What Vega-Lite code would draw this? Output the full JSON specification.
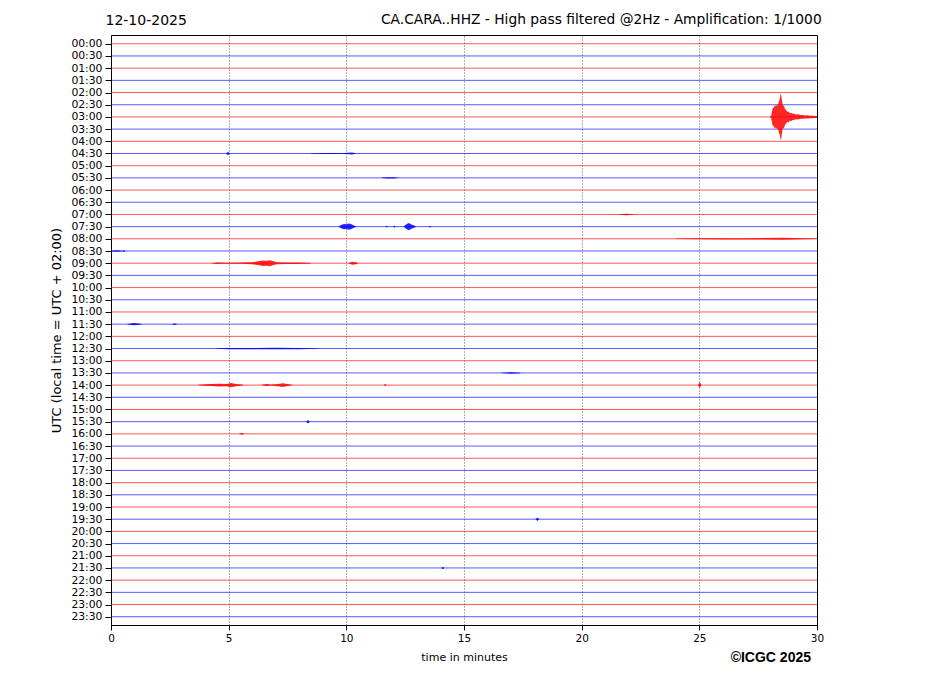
{
  "$schema": "https://vega.github.io/schema/vega-lite/v6.json",
  "width": 706,
  "height": 590,
  "autosize": {"type": "none"},
  "padding": {"left": 111, "top": 35, "right": 110, "bottom": 71},
  "background": "white",
  "config": {
    "view": {"stroke": "black", "strokeWidth": 1},
    "font": "DejaVu Sans",
    "axis": {"labelColor": "black", "titleColor": "black", "domainColor": "black", "tickColor": "black", "labelFont": "DejaVu Sans", "titleFont": "DejaVu Sans"},
    "axisY": {"labelOverlap": false, "labelFlush": false, "labelBound": false}
  },
  "title": {
    "text": "CA.CARA..HHZ - High pass filtered @2Hz - Amplification: 1/1000",
    "anchor": "end",
    "font": "DejaVu Sans",
    "fontSize": 13.8,
    "fontWeight": "normal",
    "color": "black",
    "offset": -14,
    "dx": -2
  },
  "datasets": {
    "traces": [
      {"i": 0}, {"i": 1}, {"i": 2}, {"i": 3}, {"i": 4}, {"i": 5}, {"i": 6}, {"i": 7},
      {"i": 8}, {"i": 9}, {"i": 10}, {"i": 11}, {"i": 12}, {"i": 13}, {"i": 14}, {"i": 15},
      {"i": 16}, {"i": 17}, {"i": 18}, {"i": 19}, {"i": 20}, {"i": 21}, {"i": 22}, {"i": 23},
      {"i": 24}, {"i": 25}, {"i": 26}, {"i": 27}, {"i": 28}, {"i": 29}, {"i": 30}, {"i": 31},
      {"i": 32}, {"i": 33}, {"i": 34}, {"i": 35}, {"i": 36}, {"i": 37}, {"i": 38}, {"i": 39},
      {"i": 40}, {"i": 41}, {"i": 42}, {"i": 43}, {"i": 44}, {"i": 45}, {"i": 46}, {"i": 47}
    ],
    "events": [
      {"e": "q", "i": 6, "t": 28.0, "a": 0.03},
      {"e": "q", "i": 6, "t": 28.05, "a": 0.08},
      {"e": "q", "i": 6, "t": 28.08, "a": 0.35},
      {"e": "q", "i": 6, "t": 28.1, "a": 0.6},
      {"e": "q", "i": 6, "t": 28.13, "a": 0.8},
      {"e": "q", "i": 6, "t": 28.16, "a": 0.7},
      {"e": "q", "i": 6, "t": 28.2, "a": 0.95},
      {"e": "q", "i": 6, "t": 28.23, "a": 0.85},
      {"e": "q", "i": 6, "t": 28.26, "a": 1.0},
      {"e": "q", "i": 6, "t": 28.3, "a": 0.9},
      {"e": "q", "i": 6, "t": 28.33, "a": 1.0},
      {"e": "q", "i": 6, "t": 28.36, "a": 1.1},
      {"e": "q", "i": 6, "t": 28.39, "a": 1.3},
      {"e": "q", "i": 6, "t": 28.42, "a": 1.5},
      {"e": "q", "i": 6, "t": 28.45, "a": 1.85},
      {"e": "q", "i": 6, "t": 28.47, "a": 1.9},
      {"e": "q", "i": 6, "t": 28.5, "a": 1.5},
      {"e": "q", "i": 6, "t": 28.53, "a": 1.1},
      {"e": "q", "i": 6, "t": 28.56, "a": 0.9},
      {"e": "q", "i": 6, "t": 28.6, "a": 0.95},
      {"e": "q", "i": 6, "t": 28.63, "a": 0.7},
      {"e": "q", "i": 6, "t": 28.66, "a": 0.6},
      {"e": "q", "i": 6, "t": 28.7, "a": 0.5},
      {"e": "q", "i": 6, "t": 28.75, "a": 0.4},
      {"e": "q", "i": 6, "t": 28.8, "a": 0.45},
      {"e": "q", "i": 6, "t": 28.85, "a": 0.3},
      {"e": "q", "i": 6, "t": 28.9, "a": 0.35},
      {"e": "q", "i": 6, "t": 28.95, "a": 0.25},
      {"e": "q", "i": 6, "t": 29.0, "a": 0.28},
      {"e": "q", "i": 6, "t": 29.1, "a": 0.2},
      {"e": "q", "i": 6, "t": 29.2, "a": 0.22},
      {"e": "q", "i": 6, "t": 29.3, "a": 0.15},
      {"e": "q", "i": 6, "t": 29.4, "a": 0.16},
      {"e": "q", "i": 6, "t": 29.5, "a": 0.12},
      {"e": "q", "i": 6, "t": 29.6, "a": 0.13},
      {"e": "q", "i": 6, "t": 29.7, "a": 0.1},
      {"e": "q", "i": 6, "t": 29.8, "a": 0.1},
      {"e": "q", "i": 6, "t": 29.9, "a": 0.08},
      {"e": "q", "i": 6, "t": 30.0, "a": 0.08},

      {"e": "e1", "i": 15, "t": 9.7, "a": 0.05},
      {"e": "e1", "i": 15, "t": 9.8, "a": 0.15},
      {"e": "e1", "i": 15, "t": 9.9, "a": 0.22},
      {"e": "e1", "i": 15, "t": 10.0, "a": 0.2},
      {"e": "e1", "i": 15, "t": 10.1, "a": 0.25},
      {"e": "e1", "i": 15, "t": 10.2, "a": 0.22},
      {"e": "e1", "i": 15, "t": 10.3, "a": 0.12},
      {"e": "e1", "i": 15, "t": 10.4, "a": 0.04},
      {"e": "e2", "i": 15, "t": 11.68, "a": 0.02},
      {"e": "e2", "i": 15, "t": 11.72, "a": 0.1},
      {"e": "e2", "i": 15, "t": 11.76, "a": 0.02},
      {"e": "e3", "i": 15, "t": 12.0, "a": 0.02},
      {"e": "e3", "i": 15, "t": 12.04, "a": 0.1},
      {"e": "e3", "i": 15, "t": 12.08, "a": 0.02},
      {"e": "e4", "i": 15, "t": 12.45, "a": 0.04},
      {"e": "e4", "i": 15, "t": 12.55, "a": 0.2},
      {"e": "e4", "i": 15, "t": 12.65, "a": 0.3},
      {"e": "e4", "i": 15, "t": 12.75, "a": 0.2},
      {"e": "e4", "i": 15, "t": 12.85, "a": 0.12},
      {"e": "e4", "i": 15, "t": 12.95, "a": 0.04},
      {"e": "e5", "i": 15, "t": 13.5, "a": 0.02},
      {"e": "e5", "i": 15, "t": 13.55, "a": 0.07},
      {"e": "e5", "i": 15, "t": 13.6, "a": 0.02},

      {"e": "e6", "i": 18, "t": 4.3, "a": 0.02},
      {"e": "e6", "i": 18, "t": 4.5, "a": 0.06},
      {"e": "e6", "i": 18, "t": 4.7, "a": 0.05},
      {"e": "e6", "i": 18, "t": 5.0, "a": 0.04},
      {"e": "e6", "i": 18, "t": 5.5, "a": 0.05},
      {"e": "e6", "i": 18, "t": 6.0, "a": 0.08},
      {"e": "e6", "i": 18, "t": 6.25, "a": 0.15},
      {"e": "e6", "i": 18, "t": 6.45, "a": 0.22},
      {"e": "e6", "i": 18, "t": 6.6, "a": 0.2},
      {"e": "e6", "i": 18, "t": 6.75, "a": 0.25},
      {"e": "e6", "i": 18, "t": 6.9, "a": 0.15},
      {"e": "e6", "i": 18, "t": 7.05, "a": 0.08},
      {"e": "e6", "i": 18, "t": 7.4, "a": 0.06},
      {"e": "e6", "i": 18, "t": 7.8, "a": 0.06},
      {"e": "e6", "i": 18, "t": 8.2, "a": 0.05},
      {"e": "e6", "i": 18, "t": 8.5, "a": 0.02},
      {"e": "e7", "i": 18, "t": 10.1, "a": 0.02},
      {"e": "e7", "i": 18, "t": 10.25, "a": 0.12},
      {"e": "e7", "i": 18, "t": 10.4, "a": 0.08},
      {"e": "e7", "i": 18, "t": 10.5, "a": 0.02},

      {"e": "e8", "i": 28, "t": 3.7, "a": 0.02},
      {"e": "e8", "i": 28, "t": 4.0, "a": 0.06},
      {"e": "e8", "i": 28, "t": 4.3, "a": 0.08},
      {"e": "e8", "i": 28, "t": 4.6, "a": 0.12},
      {"e": "e8", "i": 28, "t": 4.9, "a": 0.1},
      {"e": "e8", "i": 28, "t": 5.1, "a": 0.18},
      {"e": "e8", "i": 28, "t": 5.3, "a": 0.1},
      {"e": "e8", "i": 28, "t": 5.6, "a": 0.04},
      {"e": "e9", "i": 28, "t": 6.4, "a": 0.02},
      {"e": "e9", "i": 28, "t": 6.6, "a": 0.08},
      {"e": "e9", "i": 28, "t": 6.8, "a": 0.04},
      {"e": "e9", "i": 28, "t": 7.1, "a": 0.1},
      {"e": "e9", "i": 28, "t": 7.3, "a": 0.15},
      {"e": "e9", "i": 28, "t": 7.5, "a": 0.08},
      {"e": "e9", "i": 28, "t": 7.7, "a": 0.02},
      {"e": "e10", "i": 28, "t": 11.6, "a": 0.02},
      {"e": "e10", "i": 28, "t": 11.65, "a": 0.08},
      {"e": "e10", "i": 28, "t": 11.7, "a": 0.02},
      {"e": "e11", "i": 28, "t": 24.95, "a": 0.02},
      {"e": "e11", "i": 28, "t": 25.02, "a": 0.25},
      {"e": "e11", "i": 28, "t": 25.08, "a": 0.02},

      {"e": "e12", "i": 9, "t": 4.9, "a": 0.02},
      {"e": "e12", "i": 9, "t": 4.97, "a": 0.14},
      {"e": "e12", "i": 9, "t": 5.04, "a": 0.02},
      {"e": "e13", "i": 9, "t": 8.5, "a": 0.02},
      {"e": "e13", "i": 9, "t": 9.2, "a": 0.04},
      {"e": "e13", "i": 9, "t": 9.9, "a": 0.03},
      {"e": "e13", "i": 9, "t": 10.25, "a": 0.09},
      {"e": "e13", "i": 9, "t": 10.4, "a": 0.02},
      {"e": "e14", "i": 11, "t": 11.5, "a": 0.02},
      {"e": "e14", "i": 11, "t": 11.7, "a": 0.06},
      {"e": "e14", "i": 11, "t": 12.0, "a": 0.06},
      {"e": "e14", "i": 11, "t": 12.2, "a": 0.02},
      {"e": "e15", "i": 17, "t": 0.0, "a": 0.04},
      {"e": "e15", "i": 17, "t": 0.3, "a": 0.06},
      {"e": "e15", "i": 17, "t": 0.5, "a": 0.03},
      {"e": "e15", "i": 17, "t": 0.55, "a": 0.08},
      {"e": "e15", "i": 17, "t": 0.6, "a": 0.02},
      {"e": "e16", "i": 23, "t": 0.7, "a": 0.02},
      {"e": "e16", "i": 23, "t": 0.95, "a": 0.1},
      {"e": "e16", "i": 23, "t": 1.2, "a": 0.05},
      {"e": "e16", "i": 23, "t": 1.3, "a": 0.02},
      {"e": "e17", "i": 23, "t": 2.6, "a": 0.02},
      {"e": "e17", "i": 23, "t": 2.7, "a": 0.06},
      {"e": "e17", "i": 23, "t": 2.8, "a": 0.02},
      {"e": "e18", "i": 31, "t": 8.3, "a": 0.02},
      {"e": "e18", "i": 31, "t": 8.37, "a": 0.14},
      {"e": "e18", "i": 31, "t": 8.44, "a": 0.02},
      {"e": "e19", "i": 39, "t": 18.05, "a": 0.02},
      {"e": "e19", "i": 39, "t": 18.12, "a": 0.14},
      {"e": "e19", "i": 39, "t": 18.19, "a": 0.02},
      {"e": "e20", "i": 43, "t": 14.05, "a": 0.02},
      {"e": "e20", "i": 43, "t": 14.1, "a": 0.1},
      {"e": "e20", "i": 43, "t": 14.15, "a": 0.02},
      {"e": "e21", "i": 16, "t": 24.0, "a": 0.02},
      {"e": "e21", "i": 16, "t": 25.0, "a": 0.04},
      {"e": "e21", "i": 16, "t": 26.0, "a": 0.05},
      {"e": "e21", "i": 16, "t": 27.0, "a": 0.05},
      {"e": "e21", "i": 16, "t": 28.5, "a": 0.08},
      {"e": "e21", "i": 16, "t": 29.5, "a": 0.04},
      {"e": "e21", "i": 16, "t": 30.0, "a": 0.02},
      {"e": "e22", "i": 14, "t": 21.6, "a": 0.02},
      {"e": "e22", "i": 14, "t": 21.9, "a": 0.06},
      {"e": "e22", "i": 14, "t": 22.2, "a": 0.02},
      {"e": "e23", "i": 25, "t": 4.5, "a": 0.02},
      {"e": "e23", "i": 25, "t": 5.0, "a": 0.05},
      {"e": "e23", "i": 25, "t": 6.0, "a": 0.05},
      {"e": "e23", "i": 25, "t": 7.0, "a": 0.06},
      {"e": "e23", "i": 25, "t": 8.0, "a": 0.05},
      {"e": "e23", "i": 25, "t": 8.8, "a": 0.02},
      {"e": "e24", "i": 32, "t": 5.45, "a": 0.02},
      {"e": "e24", "i": 32, "t": 5.55, "a": 0.08},
      {"e": "e24", "i": 32, "t": 5.65, "a": 0.02},
      {"e": "e25", "i": 27, "t": 16.6, "a": 0.02},
      {"e": "e25", "i": 27, "t": 17.0, "a": 0.06},
      {"e": "e25", "i": 27, "t": 17.4, "a": 0.02}
    ]
  },
  "resolve": {"axis": {"x": "independent", "y": "independent"}},
  "layer": [
    {
      "data": {"name": "traces"},
      "transform": [{"calculate": "datum.i % 2 === 0 ? 'r' : 'b'", "as": "c"}],
      "mark": {"type": "rule", "strokeWidth": 1, "opacity": 0.65},
      "encoding": {
        "y": {
          "field": "i",
          "type": "quantitative",
          "scale": {"domain": [-0.72, 47.68], "reverse": true, "nice": false, "zero": false},
          "axis": {
            "values": [0,1,2,3,4,5,6,7,8,9,10,11,12,13,14,15,16,17,18,19,20,21,22,23,24,25,26,27,28,29,30,31,32,33,34,35,36,37,38,39,40,41,42,43,44,45,46,47],
            "labelExpr": "(floor(datum.value/2) < 10 ? '0' : '') + floor(datum.value/2) + ':' + (datum.value % 2 ? '30' : '00')",
            "labelFontSize": 10.8,
            "labelPadding": 3,
            "labelOverlap": false,
            "tickSize": 6,
            "grid": false,
            "title": "UTC (local time = UTC + 02:00)",
            "titleFontSize": 13,
            "titleFontWeight": "normal",
            "titlePadding": 7
          }
        },
        "color": {
          "field": "c",
          "type": "nominal",
          "scale": {"domain": ["r", "b"], "range": ["#ff0000", "#0000ff"]},
          "legend": null
        }
      }
    },
    {
      "data": {"name": "events"},
      "transform": [
        {"calculate": "datum.i - datum.a", "as": "lo"},
        {"calculate": "datum.i + datum.a", "as": "hi"},
        {"calculate": "datum.i % 2 === 0 ? 'r' : 'b'", "as": "c"}
      ],
      "mark": {"type": "area", "opacity": 0.85, "strokeWidth": 0.5},
      "encoding": {
        "x": {
          "field": "t",
          "type": "quantitative",
          "scale": {"domain": [0, 30], "nice": false, "zero": false},
          "axis": {
            "values": [0, 5, 10, 15, 20, 25, 30],
            "labelFontSize": 10.5,
            "labelFlush": false,
            "tickSize": 5,
            "labelPadding": 3,
            "grid": true,
            "gridDash": [1, 2],
            "gridColor": "black",
            "gridWidth": 0.8,
            "gridOpacity": 0.8,
            "title": "time in minutes",
            "titleFontSize": 11,
            "titleFontWeight": "normal",
            "titlePadding": 8
          }
        },
        "y": {"field": "lo", "type": "quantitative", "axis": null},
        "y2": {"field": "hi"},
        "detail": {"field": "e", "type": "nominal"},
        "color": {"field": "c", "type": "nominal", "legend": null}
      }
    },
    {
      "data": {"values": [{"label": "©ICGC 2025"}]},
      "mark": {"type": "text", "align": "right", "baseline": "middle", "font": "Liberation Sans", "fontSize": 14, "fontWeight": "bold", "color": "black", "dx": -6},
      "encoding": {
        "x": {
          "datum": 30,
          "type": "quantitative",
          "axis": {
            "orient": "top",
            "labels": false,
            "ticks": false,
            "domain": false,
            "grid": false,
            "title": "12-10-2025",
            "titleAnchor": "start",
            "titleFontSize": 14,
            "titleFontWeight": "normal",
            "titlePadding": 8,
            "titleX": -6
          }
        },
        "y": {"datum": 50.4, "type": "quantitative", "axis": null},
        "text": {"field": "label"}
      }
    }
  ]
}
